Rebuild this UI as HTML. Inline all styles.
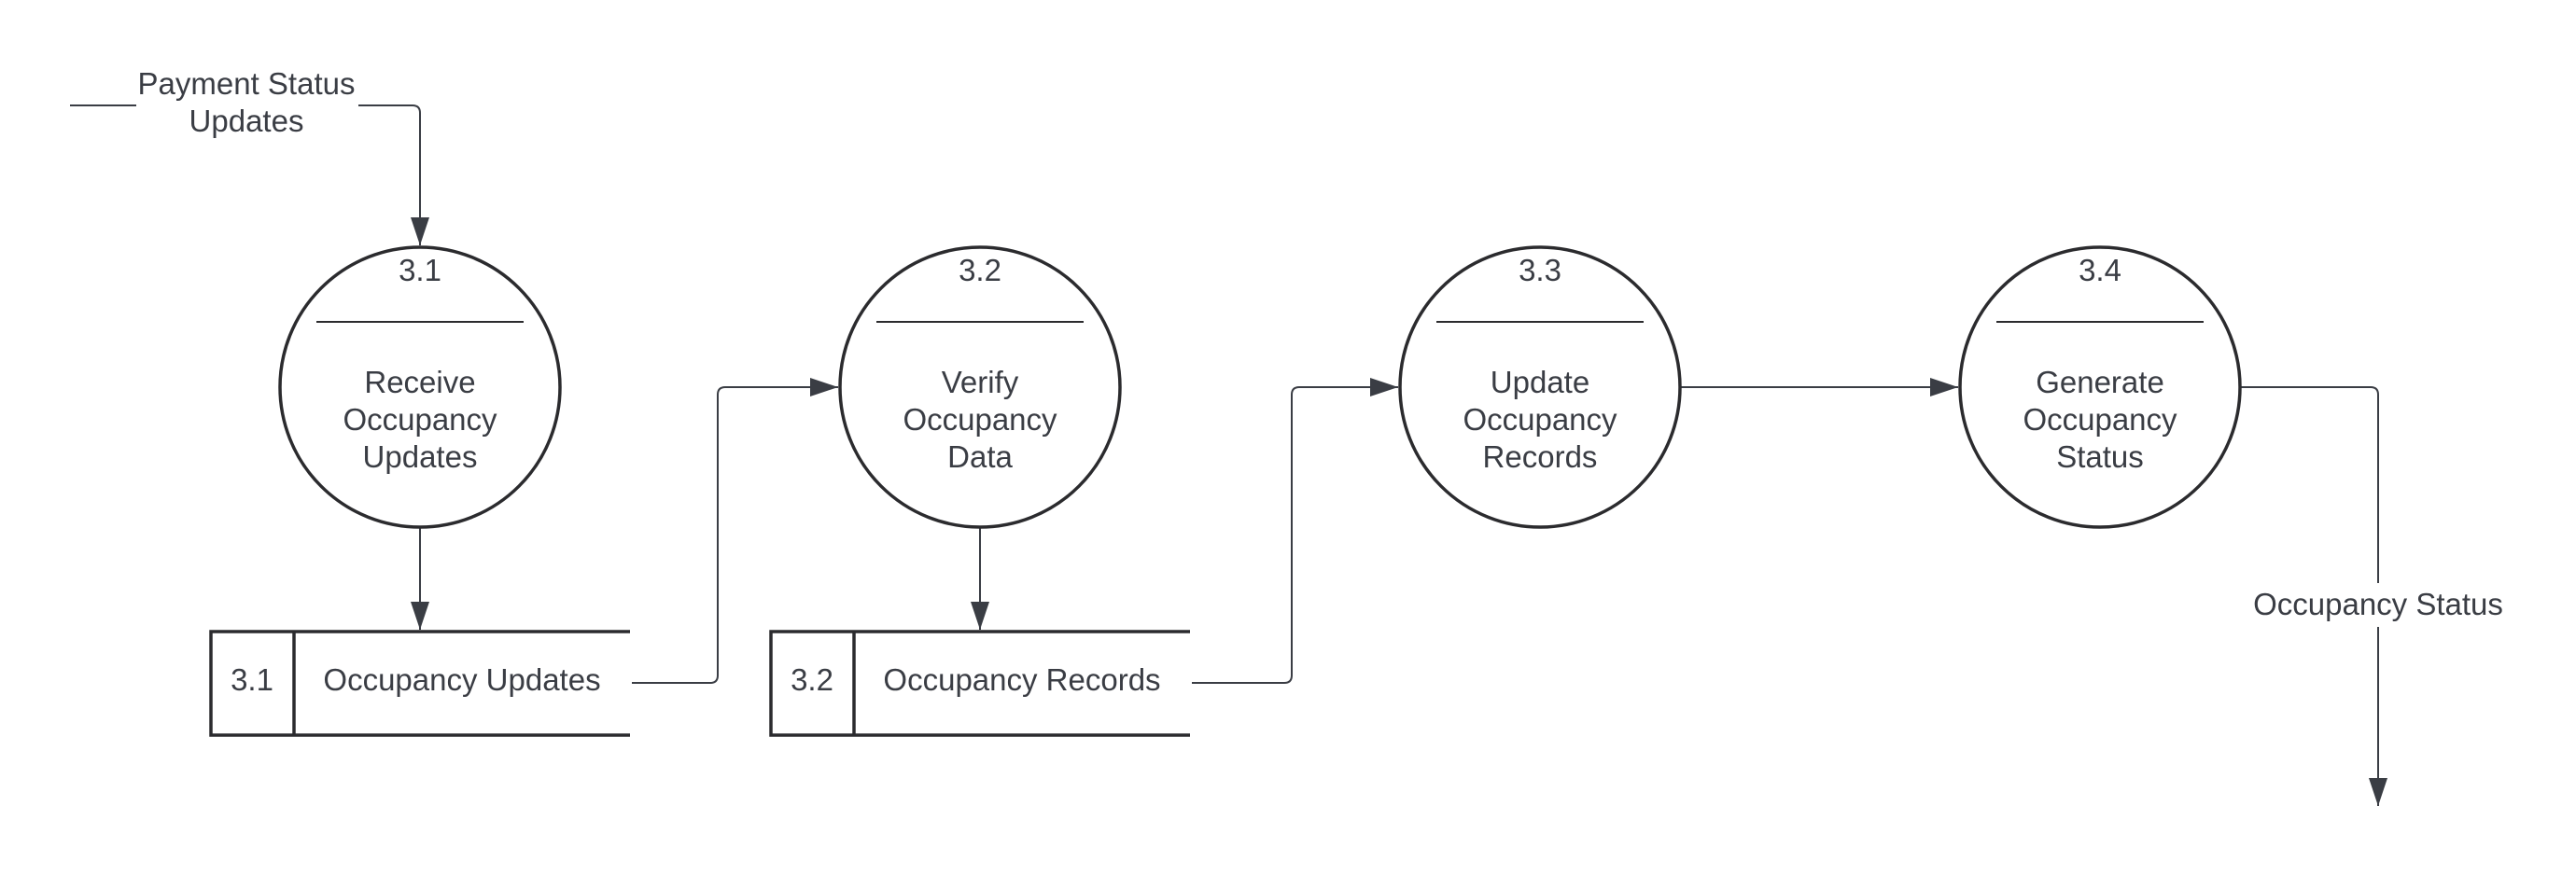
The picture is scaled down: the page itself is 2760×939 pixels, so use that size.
<!DOCTYPE html>
<html><head><meta charset="utf-8"><style>
html,body{margin:0;padding:0;background:#fff;}
svg{display:block;}
text{font-family:"Liberation Sans",Arial,sans-serif;font-size:33px;fill:#3a3d44;text-anchor:middle;}
</style></head><body>
<svg width="2760" height="939" viewBox="0 0 2760 939" xmlns="http://www.w3.org/2000/svg">
<defs>
<marker id="ah" markerWidth="30" markerHeight="20" refX="30" refY="10" orient="auto" markerUnits="userSpaceOnUse">
<path d="M0,0 L30,10 L0,20 Z" fill="#3a3d44"/>
</marker>
</defs>
<rect width="2760" height="939" fill="#fff"/>
<g fill="none" stroke="#3a3d44" stroke-width="2">
<!-- payment status -->
<path d="M75,113 H146"/>
<path d="M384,113 H442 Q450,113 450,121 V263" marker-end="url(#ah)"/>
<!-- 3.1 to store -->
<path d="M450,565 V675" marker-end="url(#ah)"/>
<path d="M1050,565 V675" marker-end="url(#ah)"/>
<!-- store1 to 3.2 -->
<path d="M677,732 H761 Q769,732 769,724 V423 Q769,415 777,415 H898" marker-end="url(#ah)"/>
<path d="M1277,732 H1376 Q1384,732 1384,724 V423 Q1384,415 1392,415 H1498" marker-end="url(#ah)"/>
<path d="M1801,415 H2098" marker-end="url(#ah)"/>
<path d="M2401,415 H2540 Q2548,415 2548,423 V625"/>
<path d="M2548,672 V864" marker-end="url(#ah)"/>
</g>
<g fill="none" stroke="#2b2b2e" stroke-width="3.5">
<circle cx="450" cy="415" r="150"/>
<circle cx="1050" cy="415" r="150"/>
<circle cx="1650" cy="415" r="150"/>
<circle cx="2250" cy="415" r="150"/>
<path d="M675,677 H226 V788 H675"/>
<path d="M315,677 V788"/>
<path d="M1275,677 H826 V788 H1275"/>
<path d="M915,677 V788"/>
</g>
<g stroke="#2b2b2e" stroke-width="2">
<path d="M339,345 H561"/>
<path d="M939,345 H1161"/>
<path d="M1539,345 H1761"/>
<path d="M2139,345 H2361"/>
</g>
<text x="264" y="101">Payment Status</text>
<text x="264" y="141">Updates</text>
<text x="450" y="301">3.1</text>
<text x="450" y="421">Receive</text><text x="450" y="461">Occupancy</text><text x="450" y="501">Updates</text>
<text x="1050" y="301">3.2</text>
<text x="1050" y="421">Verify</text><text x="1050" y="461">Occupancy</text><text x="1050" y="501">Data</text>
<text x="1650" y="301">3.3</text>
<text x="1650" y="421">Update</text><text x="1650" y="461">Occupancy</text><text x="1650" y="501">Records</text>
<text x="2250" y="301">3.4</text>
<text x="2250" y="421">Generate</text><text x="2250" y="461">Occupancy</text><text x="2250" y="501">Status</text>
<text x="270" y="740">3.1</text>
<text x="495" y="740">Occupancy Updates</text>
<text x="870" y="740">3.2</text>
<text x="1095" y="740">Occupancy Records</text>
<text x="2548" y="659">Occupancy Status</text>
</svg>
</body></html>
